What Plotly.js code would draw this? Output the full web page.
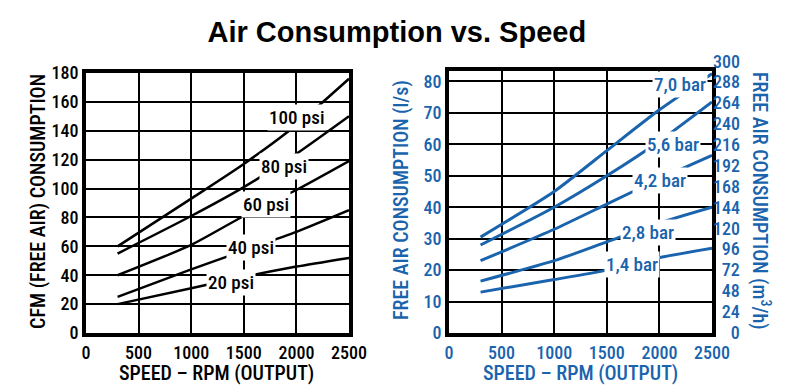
<!DOCTYPE html>
<html><head><meta charset="utf-8">
<script src="https://cdn.plot.ly/plotly-3.0.1.min.js"></script>
<style>html,body{margin:0;padding:0;background:#fff}#chart{width:800px;height:392px}</style>
</head><body><div id="chart"></div>
<script>
// ---- data ----
const rpm = [300, 1000, 1500, 2000, 2500];
const psiLabels = ["100 psi", "80 psi", "60 psi", "40 psi", "20 psi"];
const cfm100 = [60, 93, 117, 144, 176];
const cfm80  = [55, 81, 101, 124, 150];
const cfm60  = [40, 61, 81, 99, 119];
const cfm40  = [25, 44, 57, 70, 85];
const cfm20  = [20, 31, 39, 46, 52];
const psiLabelX = [2010, 1880, 1710, 1565, 1375];
const psiLabelY = [149, 115, 89, 59.5, 35];

const barLabels = ["7,0 bar", "5,6 bar", "4,2 bar", "2,8 bar", "1,4 bar"];
const ls70 = [30.5, 45, 58, 71, 82.5];
const ls56 = [28, 40, 50, 61, 73.5];
const ls42 = [23, 33, 41, 49, 56.5];
const ls28 = [16.5, 23, 29, 35, 40];
const ls14 = [13, 17, 20, 24, 27];
const barLabelX = [2195, 2130, 2005, 1890, 1740];
const barLabelY = [79, 60, 48.4, 31.9, 21.7];

const xTicks = [0, 500, 1000, 1500, 2000, 2500];
const cfmTicks = [0, 20, 40, 60, 80, 100, 120, 140, 160, 180];
const lsTicks = [0, 10, 20, 30, 40, 50, 60, 70, 80];
const m3hTicks = [0, 24, 48, 72, 96, 120, 144, 168, 192, 216, 240, 264, 288];
const m3hTop = [300];

// ---- style ----
const BLUE = "#1a63ad";
const FONT = "Roboto Condensed, Liberation Sans Narrow, Arial Narrow, sans-serif";
const FIG = "\u2007"; // figure space, digit-wide, to right-align right-axis labels
const padLabel = (v) => FIG.repeat(Math.max(0, 3 - String(v).length)) + String(v);

const cfmSeries = [cfm100, cfm80, cfm60, cfm40, cfm20];
const lsSeries = [ls70, ls56, ls42, ls28, ls14];

const traces = [];
cfmSeries.forEach((ys, i) => traces.push({
  x: rpm, y: ys, xaxis: "x", yaxis: "y", mode: "lines", name: psiLabels[i],
  line: {color: "#000", width: 2.5, shape: "spline", smoothing: 0.6}, hoverinfo: "x+y+name"
}));
lsSeries.forEach((ys, i) => traces.push({
  x: rpm, y: ys, xaxis: "x2", yaxis: "y2", mode: "lines", name: barLabels[i],
  line: {color: BLUE, width: 3, shape: "spline", smoothing: 0.6}, hoverinfo: "x+y+name"
}));
// invisible traces to activate the right-hand m3/h axes
["y3", "y4"].forEach(ya => traces.push({x: [0], y: [0], xaxis: "x2", yaxis: ya, mode: "markers",
  marker: {opacity: 0}, showlegend: false, hoverinfo: "skip"}));

const annotations = [];
psiLabels.forEach((t, i) => annotations.push({
  x: psiLabelX[i], y: psiLabelY[i], xref: "x", yref: "y", text: t, showarrow: false,
  xanchor: "center", yanchor: "middle",
  bgcolor: "#fff", borderpad: 1, font: {family: FONT, size: 19, weight: 500, color: "#000"}
}));
barLabels.forEach((t, i) => annotations.push({
  x: barLabelX[i], y: barLabelY[i], xref: "x2", yref: "y2", text: t, showarrow: false,
  xanchor: "center", yanchor: "middle",
  bgcolor: "#fff", borderpad: 1, font: {family: FONT, size: 19, weight: 500, color: BLUE}
}));
// axis titles
const titleFont = (c) => ({family: FONT, size: 20, weight: 500, color: c});
const axTitle = (text, px, py, ang, c) => ({text: text, xref: "paper", yref: "paper",
  x: px / 800, y: 1 - py / 392, xanchor: "center", yanchor: "middle",
  textangle: ang, showarrow: false, font: titleFont(c)});
annotations.push(axTitle("CFM (FREE AIR) CONSUMPTION", 38, 202, -90, "#000"));
annotations.push(axTitle("SPEED – RPM (OUTPUT)", 216, 373, 0, "#000"));
annotations.push(axTitle("FREE AIR CONSUMPTION (l/s)", 401, 200, -90, BLUE));
annotations.push(axTitle("SPEED – RPM (OUTPUT)", 580, 373, 0, BLUE));
annotations.push(axTitle("FREE AIR CONSUMPTION (m<sup>3</sup>/h)", 761, 201, 90, BLUE));

const H = 392, W = 800;
const axBase = {
  showline: true, mirror: true, linecolor: "#000", linewidth: 4,
  showgrid: true, gridcolor: "#000", gridwidth: 2, zeroline: false,
  ticks: "", fixedrange: true, automargin: false
};
const tickFont = (c) => ({family: FONT, size: 18, weight: 500, color: c});
const rightAx = {overlaying: "y2", anchor: "x2", side: "right", range: [0, 300], showgrid: false,
  zeroline: false, showline: false, ticks: "", fixedrange: true, automargin: false,
  tickfont: tickFont(BLUE)};

const layout = {
  width: W, height: H,
  margin: {l: 0, r: 0, t: 0, b: 0},
  paper_bgcolor: "#fff", plot_bgcolor: "#fff",
  showlegend: false,
  title: {text: "<b>Air Consumption vs. Speed</b>", x: 0.496, xanchor: "center",
    y: 1 - 32/H, yanchor: "middle", font: {family: "Liberation Sans, Arial, sans-serif", size: 29, color: "#000"}},
  xaxis: Object.assign({}, axBase, {domain: [86/W, 349/W], range: [0, 2500], anchor: "y",
    tickvals: xTicks, tickfont: tickFont("#000")}),
  yaxis: Object.assign({}, axBase, {domain: [1 - 333/H, 1 - 73/H], range: [0, 180], anchor: "x",
    tickvals: cfmTicks, tickfont: tickFont("#000")}),
  xaxis2: Object.assign({}, axBase, {domain: [449/W, 712/W], range: [0, 2500], anchor: "y2",
    tickvals: xTicks, tickfont: tickFont(BLUE)}),
  yaxis2: Object.assign({}, axBase, {domain: [1 - 333/H, 1 - 71/H], range: [0, 300/3.6], anchor: "x2",
    tickvals: lsTicks, tickfont: tickFont(BLUE)}),
  yaxis3: Object.assign({}, rightAx, {tickvals: m3hTicks, ticktext: m3hTicks.map(padLabel)}),
  yaxis4: Object.assign({}, rightAx, {tickvals: m3hTop, ticktext: m3hTop.map(padLabel), ticklabelshift: -9}),
  annotations: annotations
};

Plotly.newPlot("chart", traces, layout, {displayModeBar: false, staticPlot: true});
</script>
</body></html>
